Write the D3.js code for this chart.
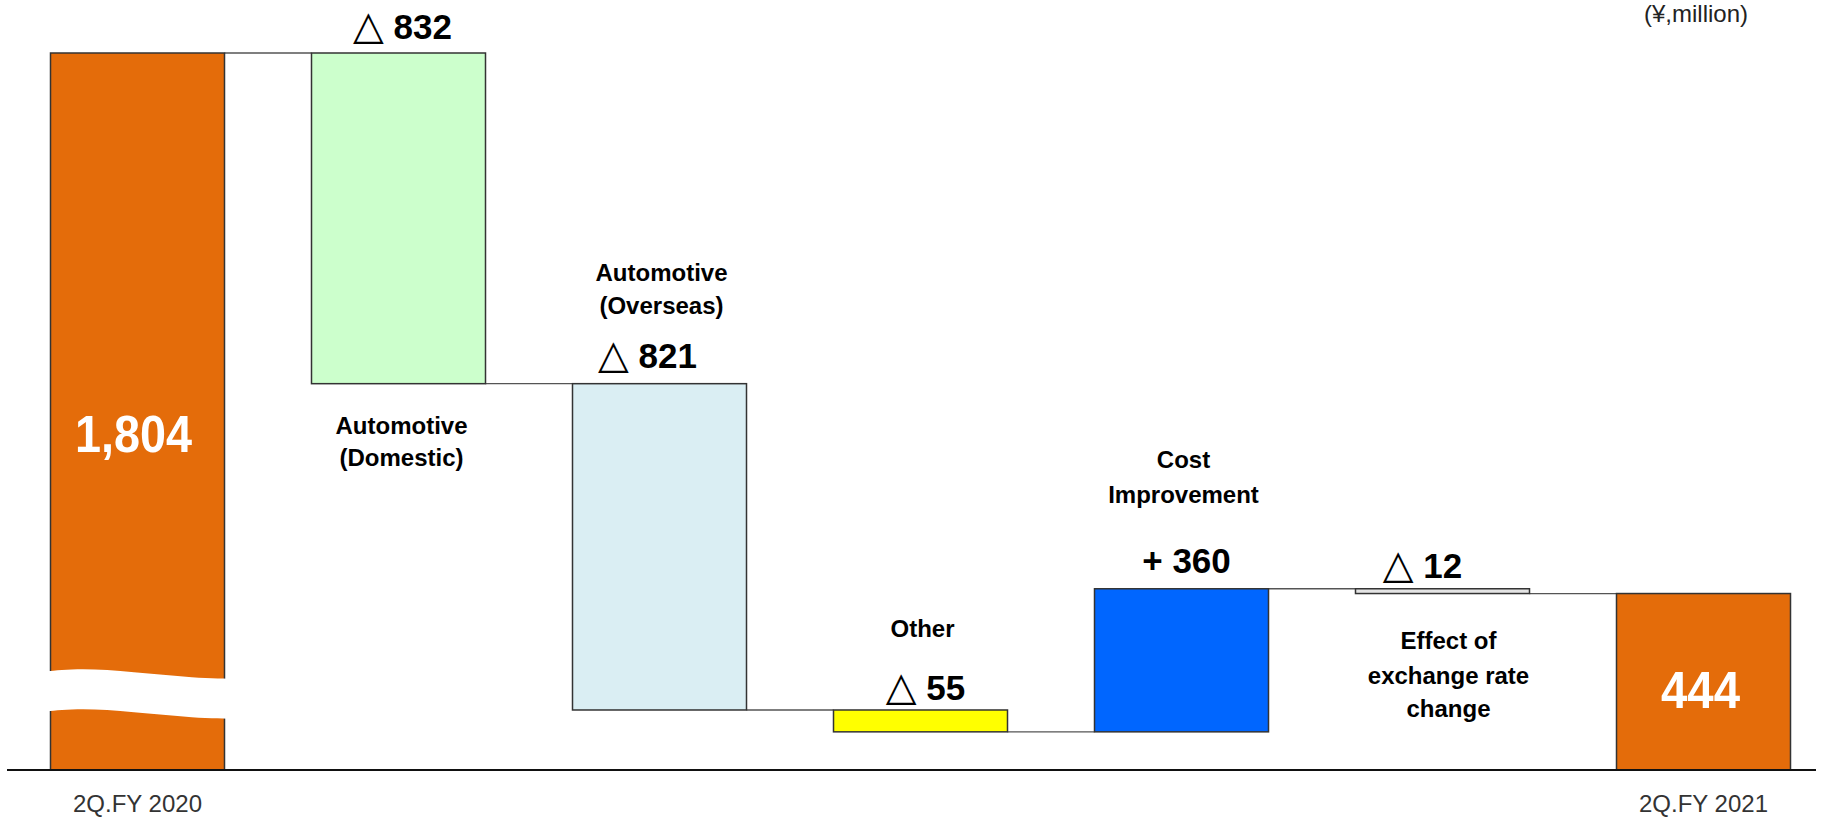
<!DOCTYPE html>
<html>
<head>
<meta charset="utf-8">
<script src="https://cdn.jsdelivr.net/npm/d3@7/dist/d3.min.js"></script>
<style>
  html, body { margin: 0; padding: 0; background: #ffffff; }
  svg { display: block; }
</style>
</head>
<body>
<svg id="chart" width="1841" height="819"></svg>
<script>
// ---------- data ----------
const categories = ["2Q.FY 2020", "Automotive (Domestic)", "Automotive (Overseas)", "Other", "Cost Improvement", "Effect of exchange rate change", "2Q.FY 2021"];
const values = [1804, -832, -821, -55, 360, -12, 444];
const kinds = ["total", "delta", "delta", "delta", "delta", "delta", "total"];
const valueLabels = ["1,804", "832", "821", "55", "360", "12", "444"];
const valueSigns = ["", "△", "△", "△", "+", "△", ""];
const categoryLines = [[], ["Automotive", "(Domestic)"], ["Automotive", "(Overseas)"], ["Other"], ["Cost", "Improvement"], ["Effect of", "exchange rate", "change"], []];
const axisLabels = ["2Q.FY 2020", "", "", "", "", "", "2Q.FY 2021"];
const unitLabel = "(¥,million)";
const barColors = ["#E46C0A", "#CCFFCC", "#DAEEF3", "#FFFF00", "#0066FF", "#E4E4E4", "#E46C0A"];

// ---------- layout ----------
const svg = d3.select("#chart");
const FONT = "'Liberation Sans', Arial, 'Noto Sans CJK JP', sans-serif";

const x = d3.scaleBand().domain(d3.range(categories.length)).range([50.5, 1790.5]).paddingInner(1 / 3).paddingOuter(0);
const y = d3.scaleLinear().domain([0, 1804]).range([770, 53]);

// waterfall levels
let run = 0;
const bars = values.map((v, i) => {
  let a, b;
  if (kinds[i] === "total") { a = 0; b = v; run = v; }
  else { a = run; b = run + v; run = b; }
  return { i, lo: Math.min(a, b), hi: Math.max(a, b), start: a, end: b };
});

// connectors
const conn = svg.append("g");
for (let i = 0; i < bars.length - 1; i++) {
  const level = bars[i].end;
  conn.append("line")
    .attr("x1", x(i) + x.bandwidth()).attr("x2", x(i + 1))
    .attr("y1", y(level)).attr("y2", y(level))
    .attr("stroke", "#555").attr("stroke-width", 1.3);
}

// bars
svg.append("g").selectAll("rect").data(bars).join("rect")
  .attr("x", d => x(d.i))
  .attr("y", d => y(d.hi))
  .attr("width", x.bandwidth())
  .attr("height", d => Math.max(1, y(d.lo) - y(d.hi)))
  .attr("fill", d => barColors[d.i])
  .attr("stroke", "#333")
  .attr("stroke-width", 1.5);

// axis baseline
svg.append("line")
  .attr("x1", 7).attr("x2", 1816)
  .attr("y1", y(0)).attr("y2", y(0))
  .attr("stroke", "#111").attr("stroke-width", 2);

// broken-bar decoration on the first bar
(function () {
  const x0 = x(0) - 10, x1 = x(0) + x.bandwidth() + 20;
  const w = x1 - x0;
  const top = y(0) - 100;
  const thick = 40;
  const pts = [[0, 2], [0.2, -2], [0.45, 2], [0.75, 8], [1, 9]];
  const line = d3.line().curve(d3.curveBasis);
  const upper = pts.map(p => [x0 + p[0] * w, top + p[1]]);
  const lower = pts.map(p => [x0 + p[0] * w, top + p[1] + thick]).reverse();
  const path = line(upper) + "L" + line(lower).slice(1) + "Z";
  svg.append("path").attr("d", path).attr("fill", "#ffffff");
})();

// value labels
const valueDx = [-4, 4, -12, 5, 5, -20, -3];
function valueY(b) {
  const t = y(b.hi), bt = y(b.lo);
  switch (b.i) {
    case 0: return t + 399;
    case 6: return bt - 62;
    case 1: return t - 14;
    case 3: return t - 10;
    case 5: return t - 11;
    default: return t - 16;
  }
}
bars.forEach(b => {
  const cx = x(b.i) + x.bandwidth() / 2 + valueDx[b.i];
  if (kinds[b.i] === "total") {
    const w = b.i === 0 ? 117 : 79;
    svg.append("text")
      .attr("x", cx).attr("y", valueY(b))
      .attr("text-anchor", "middle")
      .attr("font-family", FONT).attr("font-weight", "bold")
      .attr("font-size", 51).attr("fill", "#ffffff")
      .attr("textLength", w).attr("lengthAdjust", "spacingAndGlyphs")
      .text(valueLabels[b.i]);
  } else {
    const t = svg.append("text")
      .attr("x", cx).attr("y", valueY(b))
      .attr("text-anchor", "middle")
      .attr("font-family", FONT)
      .attr("font-size", 35).attr("fill", "#000");
    if (valueSigns[b.i] === "△") {
      t.append("tspan").attr("font-family", "'DejaVu Sans', 'Noto Sans CJK JP', sans-serif").attr("font-weight", "normal").attr("font-size", 40).text("△");
    } else {
      t.append("tspan").attr("font-weight", "bold").text(valueSigns[b.i]);
    }
    t.append("tspan").attr("font-weight", "bold").text(" " + valueLabels[b.i]);
  }
});

// category labels
const catDx = [0, 3, 2, 2, 2, 6, 0];
function catBaselines(b) {
  const t = y(b.hi), bt = y(b.lo);
  switch (b.i) {
    case 1: return [bt + 50, bt + 82];
    case 2: return [t - 103, t - 70];
    case 3: return [t - 73];
    case 4: return [t - 121, t - 86];
    case 5: return [bt + 55, bt + 90, bt + 123];
    default: return [];
  }
}
bars.forEach(b => {
  const ys = catBaselines(b);
  const cx = x(b.i) + x.bandwidth() / 2 + catDx[b.i];
  categoryLines[b.i].forEach((ln, k) => {
    svg.append("text")
      .attr("x", cx).attr("y", ys[k])
      .attr("text-anchor", "middle")
      .attr("font-family", FONT).attr("font-weight", "bold")
      .attr("font-size", 24).attr("fill", "#000")
      .text(ln);
  });
});

// axis category labels
axisLabels.forEach((lab, i) => {
  if (!lab) return;
  svg.append("text")
    .attr("x", x(i) + x.bandwidth() / 2).attr("y", 812)
    .attr("text-anchor", "middle")
    .attr("font-family", FONT)
    .attr("font-size", 24).attr("fill", "#333")
    .text(lab);
});

// unit label
svg.append("text")
  .attr("x", 1696).attr("y", 22)
  .attr("text-anchor", "middle")
  .attr("font-family", FONT)
  .attr("font-size", 24).attr("fill", "#222")
  .text(unitLabel);
</script>
</body>
</html>
